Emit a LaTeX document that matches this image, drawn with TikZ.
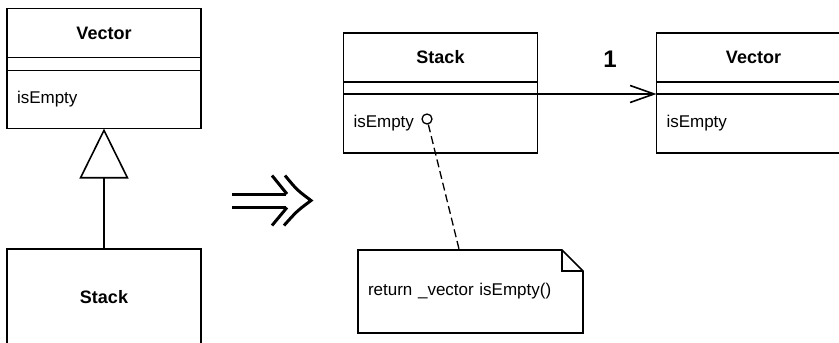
\documentclass[tikz,border=0pt]{standalone}
\usepackage{fontspec}
\setmainfont{Liberation Sans}
\usetikzlibrary{arrows.meta, positioning, calc}

\begin{document}
\begin{tikzpicture}[x=1pt, y=-1pt]
				
				\useasboundingbox (0,0) rectangle (839,343);
				
				% Stile für Klassen, Notiz und Pfeile
				\tikzset{
					kopf/.style={draw, line width=1.6pt, inner sep=0pt, outer sep=0pt,
						minimum width=194pt, minimum height=49pt,
						font=\bfseries\fontsize{18}{21}\selectfont},
					fach/.style={draw, line width=1.6pt, inner ysep=0pt, inner xsep=10pt, outer sep=0pt,
						text width=174pt, align=left, font=\fontsize{17}{20}\selectfont},
					haken/.style={draw, circle, line width=1.3pt, minimum size=10pt, inner sep=0pt},
					notiz/.style={inner ysep=0pt, inner xsep=10pt, outer sep=0pt,
						minimum width=225pt, minimum height=83pt, text width=205pt, align=left,
						font=\fontsize{17}{20}\selectfont},
					rahmen/.style={line width=1.6pt, line join=miter},
					erbt/.style={line width=1.6pt, -{Triangle[open, length=50pt, width=49pt]}},
					assoz/.style={line width=1.6pt, -{Straight Barb[length=24pt, width=17pt]}},
					mult/.style={inner sep=0pt, font=\bfseries\fontsize{24}{26}\selectfont},
					folgt/.style={line width=3pt}
				}
				
				% Vector (links)
				\node[kopf] (vecA) at (104,33) {Vector};
				\node[fach, minimum height=13pt, below=0pt of vecA] (vecAattr) {};
				\node[fach, minimum height=58pt, below=0pt of vecAattr] (vecAops) {isEmpty};
				
				% Stack (links), erbt von Vector
				\node[kopf, minimum height=96pt] (stackA) at (104,297) {Stack};
				\draw[erbt] (stackA) -- (vecAops);
				
				% Folgepfeil
				\draw[folgt] (232,194) -- (286,194);
				\draw[folgt] (232,207.5) -- (286,207.5);
				\draw[folgt] (272,175.5) -- (287,194);
				\draw[folgt] (272,225.5) -- (287,207.5);
				\draw[folgt, line join=miter] (285,175.5) .. controls (297,190) .. (311,200.5)
					.. controls (297,211) .. (284,225.5);
				
				% Stack (rechts)
				\node[kopf] (stackB) at (440.5,57.5) {Stack};
				\node[fach, minimum height=12pt, below=0pt of stackB] (stackBattr) {};
				\node[fach, minimum height=59pt, below=0pt of stackBattr] (stackBops) {isEmpty};
				
				% Vector (rechts)
				\node[kopf] (vecB) at (753.5,57.5) {Vector};
				\node[fach, minimum height=12pt, below=0pt of vecB] (vecBattr) {};
				\node[fach, minimum height=59pt, below=0pt of vecBattr] (vecBops) {isEmpty};
				
				% Assoziation
				\draw[assoz] (stackBops.north east) -- (vecBops.north west)
					node[mult, pos=0.61, above=26pt] (multB) {1};
				
				% Notiz mit Eselsohr
				\node[haken] (hook) at (427,119) {};
				\node[notiz] (note) at (470.5,291.5) {return \_vector isEmpty()};
				\draw[rahmen] (note.north west) -- ($(note.north east)+(-21,0)$)
					-- ($(note.north east)+(0,21)$) -- (note.south east)
					-- (note.south west) -- cycle;
				\draw[rahmen] ($(note.north east)+(-21,0)$) -- ($(note.north east)+(-21,21)$)
					-- ($(note.north east)+(0,21)$);
				\draw[line width=1.3pt, dash pattern=on 8pt off 4pt]
					(hook) -- ($(note.north west)!0.45!(note.north east)$);
				
\end{tikzpicture}
\end{document}
